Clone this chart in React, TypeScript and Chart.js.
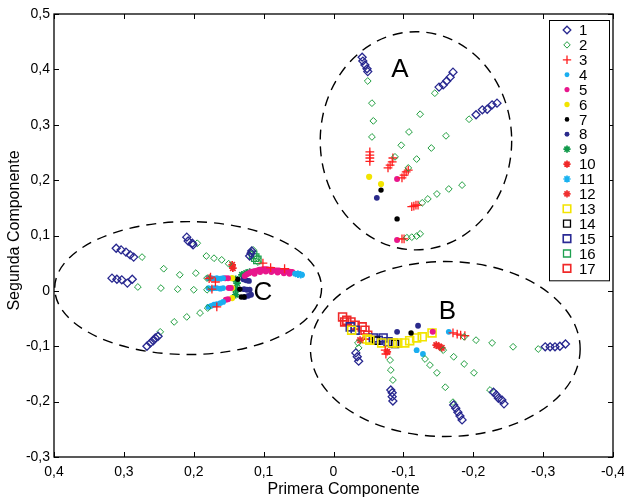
import React, { useEffect, useRef } from 'react';
import { Chart, registerables } from 'chart.js';

Chart.register(...registerables);

type P = [number, number];

// ---- axis ranges / ticks ----
const xMin = -0.4;
const xMax = 0.4;
const yMin = -0.3;
const yMax = 0.5;
const tickStep = 0.1;
const xTitle = 'Primera Componente';
const yTitle = 'Segunda Componente';

// ---- series labels ----
const seriesLabels = ['1', '2', '3', '4', '5', '6', '7', '8', '9', '10', '11', '12', '13', '14', '15', '16', '17'];

// ---- series values (x: primera, y: segunda) ----
const s1: P[] = [
  [-0.041, 0.422], [-0.042, 0.415], [-0.045, 0.408], [-0.048, 0.401], [-0.049, 0.396],
  [-0.151, 0.368], [-0.157, 0.372], [-0.162, 0.379], [-0.167, 0.386], [-0.171, 0.395],
  [-0.204, 0.318], [-0.213, 0.327], [-0.220, 0.328], [-0.227, 0.336], [-0.234, 0.339],
  [0.311, 0.077], [0.304, 0.074], [0.297, 0.070], [0.291, 0.065], [0.286, 0.061],
  [0.317, 0.023], [0.310, 0.021], [0.303, 0.020], [0.295, 0.014], [0.288, 0.021],
  [0.210, 0.097], [0.208, 0.090], [0.202, 0.086], [0.201, 0.083],
  [0.118, 0.068], [0.117, 0.072], [0.120, 0.063],
  [0.267, -0.100], [0.262, -0.094], [0.258, -0.090], [0.255, -0.085], [0.251, -0.082],
  [-0.032, -0.112], [-0.034, -0.119], [-0.036, -0.127],
  [-0.082, -0.179], [-0.084, -0.184], [-0.084, -0.191], [-0.085, -0.199],
  [-0.172, -0.206], [-0.175, -0.212], [-0.178, -0.219], [-0.181, -0.226], [-0.184, -0.233],
  [-0.229, -0.183], [-0.233, -0.188], [-0.236, -0.194], [-0.241, -0.197], [-0.244, -0.204],
  [-0.303, -0.101], [-0.310, -0.101], [-0.317, -0.101], [-0.324, -0.100], [-0.332, -0.096],
];
const s2: P[] = [
  [-0.049, 0.379], [-0.055, 0.339], [-0.057, 0.307], [-0.055, 0.278],
  [-0.088, 0.242], [-0.097, 0.263], [-0.108, 0.287], [-0.124, 0.319], [-0.145, 0.357],
  [-0.107, 0.222], [-0.119, 0.238], [-0.140, 0.258], [-0.161, 0.280], [-0.194, 0.310],
  [-0.127, 0.159], [-0.135, 0.166], [-0.148, 0.175], [-0.165, 0.184], [-0.184, 0.191],
  [-0.105, 0.096], [-0.112, 0.097], [-0.119, 0.099], [-0.124, 0.103],
  [0.274, 0.061], [0.243, 0.040], [0.220, 0.029], [0.197, 0.032], [0.182, 0.063], [0.171, 0.059], [0.160, 0.056], [0.150, 0.049],
  [0.280, 0.007], [0.247, 0.005], [0.223, 0.003], [0.200, 0.002], [0.181, 0.023], [0.181, 0.002],
  [0.248, -0.074], [0.228, -0.056], [0.210, -0.047], [0.191, -0.040], [0.180, -0.031],
  [0.195, 0.086], [0.115, 0.074], [0.109, 0.059], [0.108, 0.052],
  [-0.035, -0.094], [-0.036, -0.103], [-0.081, -0.125], [-0.082, -0.143], [-0.085, -0.161], [-0.224, -0.179],
  [-0.131, -0.123], [-0.138, -0.134], [-0.148, -0.148], [-0.160, -0.174], [-0.171, -0.201],
  [-0.157, -0.107], [-0.172, -0.119], [-0.187, -0.132], [-0.201, -0.148],
  [-0.187, -0.083], [-0.204, -0.089], [-0.227, -0.094], [-0.257, -0.101], [-0.293, -0.105],
];
const s3: P[] = [
  [-0.052, 0.251], [-0.052, 0.245], [-0.052, 0.240], [-0.052, 0.234],
  [-0.078, 0.222], [-0.081, 0.227], [-0.084, 0.233], [-0.085, 0.240],
  [-0.098, 0.204], [-0.101, 0.209], [-0.104, 0.215], [-0.107, 0.218],
  [-0.112, 0.152], [-0.115, 0.153], [-0.118, 0.155], [-0.121, 0.155],
  [-0.098, 0.094], [-0.101, 0.094],
  [0.176, 0.025], [0.169, 0.016], [0.174, 0.003], [0.167, -0.029], [0.101, 0.050], [0.178, 0.022],
  [0.090, 0.042], [0.070, 0.040],
  [-0.074, -0.107], [-0.075, -0.114], [-0.171, -0.076], [-0.177, -0.078], [-0.182, -0.080], [-0.188, -0.081],
];
const s4: P[] = [
  [0.179, 0.023], [0.175, 0.023], [0.171, 0.022], [0.167, 0.023], [0.162, 0.022], [0.158, 0.023],
  [0.179, 0.005], [0.175, 0.004], [0.171, 0.005], [0.167, 0.005], [0.162, 0.004], [0.158, 0.005],
  [0.179, -0.029], [0.175, -0.027], [0.171, -0.025], [0.167, -0.024], [0.162, -0.022], [0.158, -0.020],
  [0.055, 0.031], [0.051, 0.031], [0.045, 0.029],
  [-0.165, -0.074], [-0.119, -0.107], [-0.128, -0.114],
];
const s5: P[] = [
  [0.155, 0.023], [0.151, 0.023], [0.150, 0.005], [0.147, 0.005], [0.154, -0.016], [0.151, -0.015],
  [0.127, 0.027], [0.124, 0.030], [0.121, 0.032], [0.118, 0.034], [0.115, 0.035], [0.112, 0.036],
  [0.109, 0.037], [0.106, 0.038], [0.104, 0.038], [0.101, 0.039], [0.098, 0.039], [0.095, 0.039],
  [0.092, 0.038], [0.089, 0.038], [0.087, 0.038], [0.084, 0.037], [0.081, 0.037], [0.078, 0.037],
  [0.075, 0.036], [0.072, 0.036], [0.069, 0.036], [0.066, 0.035], [0.064, 0.035], [0.061, 0.034], [0.059, 0.034],
  [0.113, 0.031], [0.105, 0.034], [0.097, 0.035], [0.089, 0.034], [0.080, 0.033], [0.071, 0.032], [0.063, 0.031],
  [-0.091, 0.202], [-0.091, 0.092], [-0.142, -0.074],
];
const s6: P[] = [[0.145, 0.023], [0.145, 0.005], [0.145, -0.013], [-0.051, 0.206], [-0.068, 0.193]];
const s7: P[] = [[0.137, 0.021], [0.134, 0.003], [0.132, -0.011], [0.128, -0.011], [-0.068, 0.182], [-0.091, 0.130], [-0.111, -0.076]];
const s8: P[] = [
  [0.129, 0.021], [0.125, 0.019], [0.121, 0.018], [0.128, 0.003], [0.124, 0.002], [0.120, 0.002],
  [0.127, -0.011], [0.122, -0.009], [0.118, -0.007], [-0.062, 0.168], [-0.091, -0.074], [-0.121, -0.063],
];
const s9: P[] = [[0.140, 0.021], [0.138, 0.014], [0.131, 0.029], [0.125, 0.032], [0.120, 0.034], [0.140, 0.003], [0.140, -0.007]];
const s10: P[] = [[0.145, 0.047], [0.144, 0.041], [-0.147, -0.098], [-0.151, -0.100], [-0.155, -0.103]];
const s11: P[] = [[0.051, 0.030], [0.047, 0.029]];
const s12: P[] = [[-0.038, -0.089], [-0.077, -0.110]];
const s13: P[] = [
  [-0.026, -0.071], [-0.048, -0.087], [-0.052, -0.089], [-0.069, -0.094], [-0.084, -0.094], [-0.092, -0.094],
  [-0.102, -0.094], [-0.109, -0.090], [-0.119, -0.085], [-0.127, -0.083], [-0.141, -0.076],
];
const s14: P[] = [[-0.061, -0.090], [-0.088, -0.096]];
const s15: P[] = [[-0.024, -0.065], [-0.031, -0.071], [-0.057, -0.085], [-0.064, -0.089], [-0.071, -0.085], [-0.078, -0.092], [-0.085, -0.094]];
const s16: P[] = [[0.115, 0.065], [0.109, 0.056], [0.112, 0.060]];
const s17: P[] = [[-0.013, -0.047], [-0.019, -0.053], [-0.025, -0.056], [-0.031, -0.062], [-0.041, -0.065], [-0.045, -0.071], [-0.049, -0.080], [-0.016, -0.056]];

const seriesData: P[][] = [s1, s2, s3, s4, s5, s6, s7, s8, s9, s10, s11, s12, s13, s14, s15, s16, s17];

// ---- cluster regions (dashed ellipses) ----
const regionNames = ['A', 'B', 'C'];
const regionCx = [-0.118, -0.160, 0.208];
const regionCy = [0.271, -0.105, 0.005];
const regionRx = [0.137, 0.193, 0.191];
const regionRy = [0.197, 0.158, 0.120];
const regionLabelX = [-0.095, -0.163, 0.101];
const regionLabelY = [0.399, -0.038, -0.004];

// ---- styles ----
type Sty = { shape: string; color: string; r: number; fill: boolean; lw: number };
const styles: Sty[] = [
  { shape: 'rectRot', color: '#27278f', r: 4.0, fill: false, lw: 1.3 },
  { shape: 'rectRot', color: '#1f9e3e', r: 3.4, fill: false, lw: 1.0 },
  { shape: 'cross', color: '#ff1e1e', r: 4.4, fill: false, lw: 1.3 },
  { shape: 'circle', color: '#1aaef0', r: 2.9, fill: true, lw: 0 },
  { shape: 'circle', color: '#e8168c', r: 3.0, fill: true, lw: 0 },
  { shape: 'circle', color: '#f2e400', r: 3.1, fill: true, lw: 0 },
  { shape: 'circle', color: '#000000', r: 2.7, fill: true, lw: 0 },
  { shape: 'circle', color: '#2a2a8c', r: 2.9, fill: true, lw: 0 },
  { shape: 'star', color: '#10994a', r: 3.8, fill: false, lw: 1.7 },
  { shape: 'star', color: '#f02828', r: 3.8, fill: false, lw: 1.7 },
  { shape: 'star', color: '#1ab2f0', r: 3.8, fill: false, lw: 1.7 },
  { shape: 'star', color: '#f03030', r: 3.8, fill: false, lw: 1.7 },
  { shape: 'rect', color: '#f2e400', r: 5.6, fill: false, lw: 1.6 },
  { shape: 'rect', color: '#000000', r: 5.2, fill: false, lw: 1.3 },
  { shape: 'rect', color: '#2a2a95', r: 5.6, fill: false, lw: 1.6 },
  { shape: 'rect', color: '#1ea050', r: 5.2, fill: false, lw: 1.3 },
  { shape: 'rect', color: '#f02828', r: 5.6, fill: false, lw: 1.6 },
];

const FONT = '"Liberation Sans", Arial, Helvetica, sans-serif';

function fmt(v: number): string {
  const r = Math.round(v * 10) / 10;
  if (r === 0) return '0';
  return r.toFixed(1).replace('.', ',');
}

function drawMarker(ctx: CanvasRenderingContext2D, st: Sty, x: number, y: number, scale = 1) {
  const r = st.r * scale;
  ctx.save();
  ctx.strokeStyle = st.color;
  ctx.fillStyle = st.color;
  ctx.lineWidth = st.lw;
  ctx.beginPath();
  if (st.shape === 'circle') {
    ctx.arc(x, y, r, 0, Math.PI * 2);
    ctx.fill();
  } else if (st.shape === 'rectRot') {
    ctx.moveTo(x - r, y); ctx.lineTo(x, y - r); ctx.lineTo(x + r, y); ctx.lineTo(x, y + r); ctx.closePath();
    ctx.stroke();
  } else if (st.shape === 'rect') {
    const s = r * Math.SQRT1_2;
    ctx.rect(x - s, y - s, 2 * s, 2 * s);
    ctx.stroke();
  } else if (st.shape === 'cross') {
    ctx.moveTo(x - r, y); ctx.lineTo(x + r, y); ctx.moveTo(x, y - r); ctx.lineTo(x, y + r);
    ctx.stroke();
  } else if (st.shape === 'star') {
    ctx.moveTo(x - r, y); ctx.lineTo(x + r, y); ctx.moveTo(x, y - r); ctx.lineTo(x, y + r);
    const d = r * Math.SQRT1_2;
    ctx.moveTo(x - d, y - d); ctx.lineTo(x + d, y + d); ctx.moveTo(x - d, y + d); ctx.lineTo(x + d, y - d);
    ctx.stroke();
  }
  ctx.restore();
}

const overlayPlugin = {
  id: 'overlay',
  afterDatasetsDraw(chart: any) {
    const { ctx, chartArea, scales } = chart;
    const xs = scales.x;
    const ys = scales.y;
    ctx.save();
    // ellipses
    ctx.strokeStyle = '#000';
    ctx.lineWidth = 1.4;
    ctx.setLineDash([10, 7]);
    for (let i = 0; i < regionNames.length; i++) {
      const cx = xs.getPixelForValue(regionCx[i]);
      const cy = ys.getPixelForValue(regionCy[i]);
      const rx = Math.abs(xs.getPixelForValue(regionCx[i] + regionRx[i]) - cx);
      const ry = Math.abs(ys.getPixelForValue(regionCy[i] + regionRy[i]) - cy);
      ctx.beginPath();
      ctx.ellipse(cx, cy, rx, ry, 0, 0, Math.PI * 2);
      ctx.stroke();
    }
    ctx.setLineDash([]);
    // region letters
    ctx.fillStyle = '#000';
    ctx.font = `26px ${FONT}`;
    ctx.textAlign = 'center';
    ctx.textBaseline = 'middle';
    for (let i = 0; i < regionNames.length; i++) {
      ctx.fillText(regionNames[i], xs.getPixelForValue(regionLabelX[i]), ys.getPixelForValue(regionLabelY[i]));
    }
    // axis titles
    ctx.font = `16px ${FONT}`;
    ctx.fillText(xTitle, (chartArea.left + chartArea.right) / 2 + 10, chartArea.bottom + 33);
    ctx.save();
    ctx.translate(15, (chartArea.top + chartArea.bottom) / 2 - 5);
    ctx.rotate(-Math.PI / 2);
    ctx.fillText(yTitle, 0, 0);
    ctx.restore();
    // frame
    ctx.lineWidth = 1.3;
    ctx.strokeStyle = '#000';
    ctx.strokeRect(chartArea.left, chartArea.top, chartArea.right - chartArea.left, chartArea.bottom - chartArea.top);
    const tl = 5;
    ctx.beginPath();
    for (const t of xs.ticks) {
      const px = Math.round(xs.getPixelForValue(t.value)) + 0.5;
      ctx.moveTo(px, chartArea.bottom); ctx.lineTo(px, chartArea.bottom - tl);
      ctx.moveTo(px, chartArea.top); ctx.lineTo(px, chartArea.top + tl);
    }
    for (const t of ys.ticks) {
      const py = Math.round(ys.getPixelForValue(t.value)) + 0.5;
      ctx.moveTo(chartArea.left, py); ctx.lineTo(chartArea.left + tl, py);
      ctx.moveTo(chartArea.right, py); ctx.lineTo(chartArea.right - tl, py);
    }
    ctx.lineWidth = 1;
    ctx.stroke();
    // legend box
    const lw = 60;
    const rowH = 14.9;
    const lx = chartArea.right - lw - 4;
    const ly = chartArea.top + 6;
    const lh = rowH * seriesLabels.length + 7;
    ctx.fillStyle = '#fff';
    ctx.fillRect(lx, ly, lw, lh);
    ctx.strokeStyle = '#000';
    ctx.lineWidth = 1;
    ctx.strokeRect(Math.round(lx) + 0.5, Math.round(ly) + 0.5, lw, lh);
    ctx.font = `15px ${FONT}`;
    ctx.textAlign = 'left';
    ctx.textBaseline = 'middle';
    chart.data.datasets.forEach((ds: any, i: number) => {
      const y = ly + 10 + i * rowH;
      drawMarker(ctx, styles[i], lx + 18, y, styles[i].shape === 'circle' ? 0.85 : 0.95);
      ctx.fillStyle = '#000';
      ctx.fillText(ds.label, lx + 30, y + 1);
    });
    ctx.restore();
  },
};

export default function App() {
  const ref = useRef<HTMLCanvasElement | null>(null);
  useEffect(() => {
    if (!ref.current) return;
    const datasets = seriesData.map((pts, i) => {
      const st = styles[i];
      return {
        label: seriesLabels[i],
        data: pts.map(([x, y]) => ({ x, y })),
        pointStyle: st.shape,
        pointRadius: st.r,
        pointBorderWidth: st.lw,
        borderColor: st.color,
        backgroundColor: st.fill ? st.color : 'rgba(0,0,0,0)',
        pointBorderColor: st.fill ? 'rgba(0,0,0,0)' : st.color,
        pointBackgroundColor: st.fill ? st.color : 'rgba(0,0,0,0)',
        showLine: false,
      };
    });
    const chart = new Chart(ref.current, {
      type: 'scatter',
      data: { datasets },
      options: {
        animation: false,
        responsive: false,
        devicePixelRatio: 1,
        layout: { padding: { top: 14, right: 11, left: 0, bottom: 0 } },
        plugins: { legend: { display: false }, tooltip: { enabled: false } },
        scales: {
          x: {
            type: 'linear',
            min: xMin,
            max: xMax,
            reverse: true,
            grid: { display: false, drawTicks: false },
            border: { display: false },
            ticks: { stepSize: tickStep, padding: 7, color: '#000', font: { size: 14, family: FONT }, callback: (v: any) => fmt(Number(v)), maxRotation: 0, autoSkip: false },
            title: { display: false },
            afterFit: (s: any) => { s.height = 44; s.paddingLeft = 0; s.paddingRight = 0; },
          },
          y: {
            type: 'linear',
            min: yMin,
            max: yMax,
            grid: { display: false, drawTicks: false },
            border: { display: false },
            ticks: { stepSize: tickStep, padding: 4, color: '#000', font: { size: 14, family: FONT }, callback: (v: any) => fmt(Number(v)), autoSkip: false },
            title: { display: false },
            afterFit: (s: any) => { s.width = 54; s.paddingTop = 0; s.paddingBottom = 0; },
          },
        },
      } as any,
      plugins: [overlayPlugin],
    });
    return () => chart.destroy();
  }, []);
  return (
    <div style={{ position: 'absolute', left: 0, top: 0, width: 624, height: 501, background: '#fff' }}>
      <canvas ref={ref} width={624} height={501} />
    </div>
  );
}
